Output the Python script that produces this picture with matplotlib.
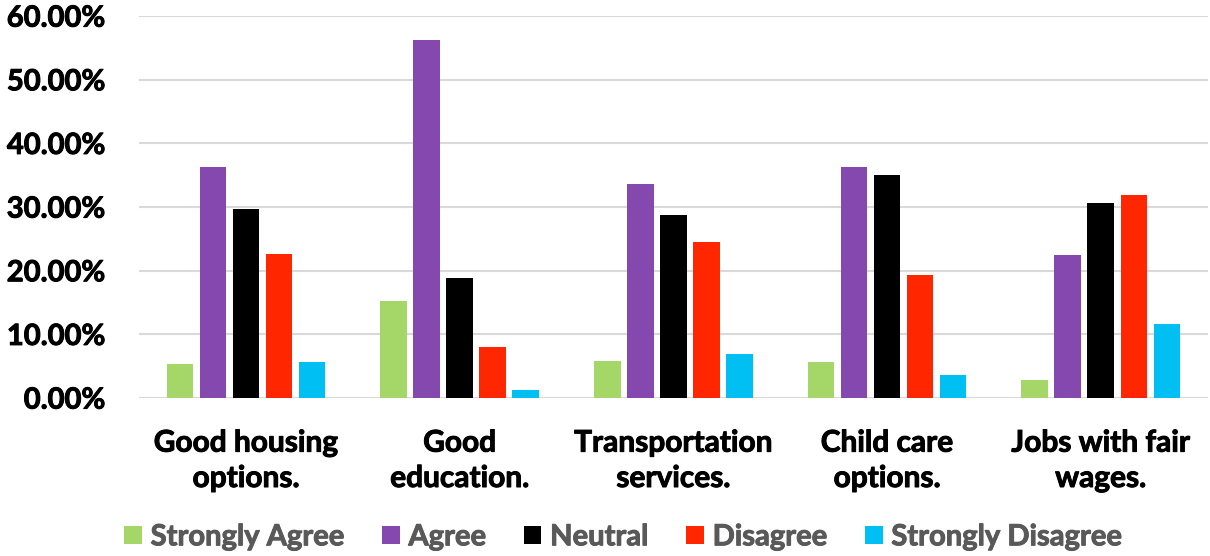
import matplotlib
matplotlib.use("Agg")
import matplotlib.pyplot as plt
import matplotlib.patheffects as pe
import numpy as np
from matplotlib.ticker import FuncFormatter, MultipleLocator

plt.rcParams['font.family'] = ['Lato', 'DejaVu Sans']

categories = ["Good housing\noptions.", "Good\neducation.", "Transportation\nservices.",
              "Child care\noptions.", "Jobs with fair\nwages."]
series_names = ["Strongly Agree", "Agree", "Neutral", "Disagree", "Strongly Disagree"]
strongly_agree = [0.053, 0.153, 0.059, 0.056, 0.029]
agree = [0.363, 0.562, 0.336, 0.363, 0.225]
neutral = [0.297, 0.189, 0.287, 0.351, 0.306]
disagree = [0.226, 0.081, 0.245, 0.194, 0.319]
strongly_disagree = [0.057, 0.013, 0.069, 0.037, 0.116]
colors = ["#A5D668", "#8548AE", "#000000", "#FF2600", "#00BFF2"]

series = [strongly_agree, agree, neutral, disagree, strongly_disagree]

fig = plt.figure(figsize=(12.1, 5.56), dpi=100)
ax = fig.add_axes([0.115, 0.284, 0.883, 0.687])

x = np.arange(len(categories))
pitch = 0.1545
width = 0.124
for i, (vals, name, col) in enumerate(zip(series, series_names, colors)):
    ax.bar(x + (i - 2) * pitch, vals, width=width, color=col, label=name,
           zorder=3, linewidth=0)

ax.set_xlim(-0.5, len(categories) - 0.5)
ax.set_ylim(0, 0.6)
ax.yaxis.set_major_locator(MultipleLocator(0.1))
ax.yaxis.set_major_formatter(FuncFormatter(lambda v, p: f"{v*100:.2f}%"))
ax.grid(axis='y', color='#D9D9D9', linewidth=1.5, zorder=0)
ax.axhline(0, color='#D9D9D9', linewidth=2, zorder=2)
for s in ax.spines.values():
    s.set_visible(False)
ax.tick_params(axis='both', length=0)
ax.tick_params(axis='y', pad=24.5)
ax.tick_params(axis='x', pad=22)
ax.set_xticks(x)
ax.set_xticklabels(categories, fontsize=21.5, fontweight='bold', linespacing=1.32)
for lab in ax.get_yticklabels():
    lab.set_fontsize(21)
    lab.set_fontweight('bold')

leg = fig.legend(loc='lower center', bbox_to_anchor=(0.515, -0.037), ncol=5,
                 frameon=False, handlelength=0.6, handleheight=0.6,
                 handletextpad=0.3, columnspacing=1.3,
                 prop={'weight': 'bold', 'size': 21})
for t in leg.get_texts():
    t.set_color('#595959')

# slightly heavier strokes for all labels
for t in list(ax.get_xticklabels()) + list(ax.get_yticklabels()):
    t.set_path_effects([pe.withStroke(linewidth=0.7, foreground='black')])
for t in leg.get_texts():
    t.set_path_effects([pe.withStroke(linewidth=0.7, foreground='#595959')])

fig.savefig("out.png", dpi=100)
